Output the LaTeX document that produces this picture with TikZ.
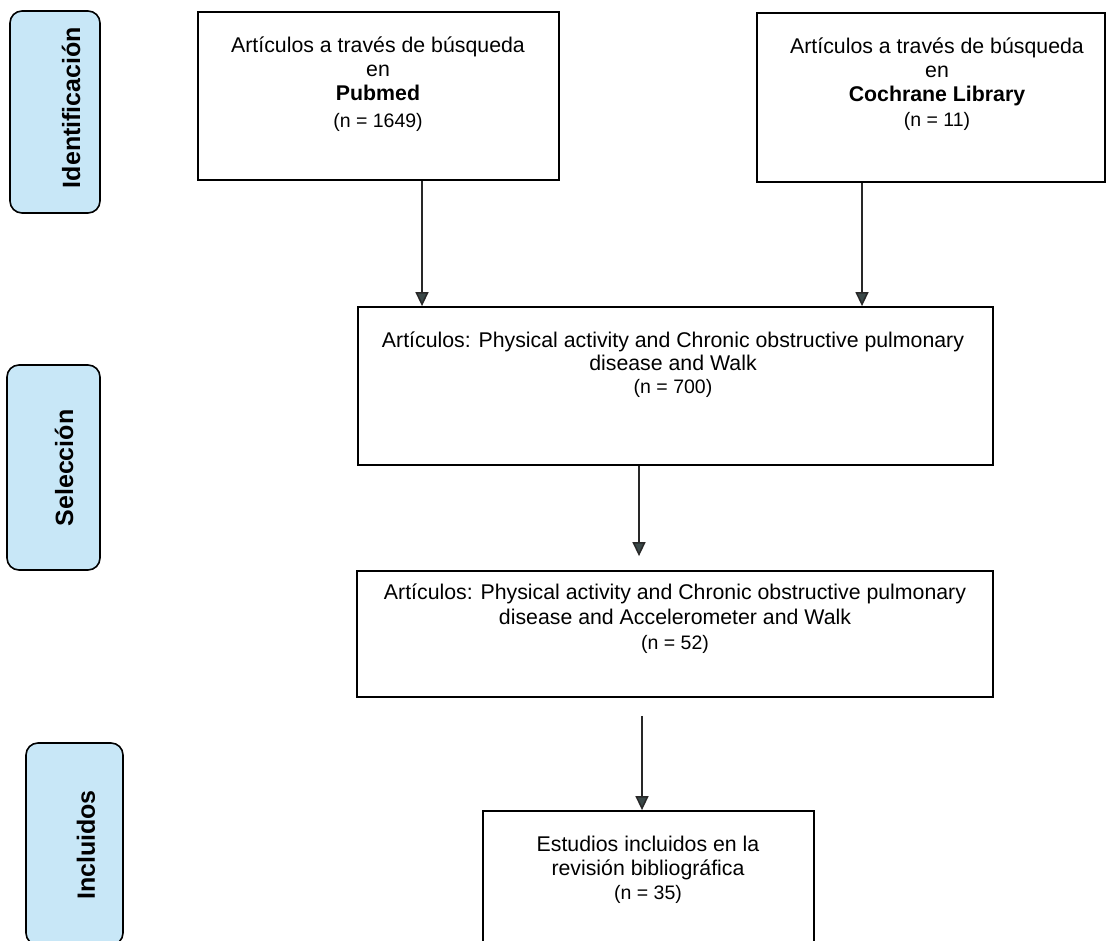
\documentclass[tikz,border=0pt]{standalone}
\usepackage{fontspec}
\setmainfont{Liberation Sans}
\usetikzlibrary{arrows.meta}
\definecolor{labelblue}{RGB}{200,231,247}
\definecolor{tipgray}{RGB}{58,72,72}
\definecolor{linegray}{RGB}{40,40,40}
\tikzset{
  mainbox/.style={draw=black, line width=1.8pt, rectangle, inner sep=0pt},
  sidebox/.style={draw=black, line width=1.6pt, fill=labelblue, rounded corners=12pt, inner sep=0pt},
  sidetext/.style={rotate=90, inner sep=0pt, font=\fontsize{25}{28}\selectfont\bfseries},
  boxtext/.style={anchor=north, align=center, inner sep=0pt, font=\fontsize{21.3}{24}\selectfont},
  arr/.style={draw=linegray, line width=1.5pt, -{Triangle[length=14pt,width=13pt,fill=tipgray]}}
}
\newcommand{\nline}[1]{{\fontsize{19.5}{24}\selectfont #1}}
\newcommand{\frst}{\rule{0pt}{20pt}}
\begin{document}
\begin{tikzpicture}[x=1pt,y=-1pt]
\useasboundingbox (0,0) rectangle (1107,941);
\clip (0,0) rectangle (1107,941);

% side labels
\node[sidebox, minimum width=90pt, minimum height=202pt] (ident) at (55,112) {};
\node[sidetext] (identT) at (71,107.5) {Identificación};
\node[sidebox, minimum width=93pt, minimum height=205pt] (selec) at (53.5,467.5) {};
\node[sidetext] (selecT) at (64,468) {Selección};
\node[sidebox, minimum width=97pt, minimum height=202pt] (inclu) at (74.5,844) {};
\node[sidetext] (incluT) at (86,845) {Incluidos};

% main boxes
\node[mainbox, minimum width=361pt, minimum height=168pt] (pub) at (378.5,96) {};
\node[boxtext] (pubT) at (378,32) {\frst Artículos a través de búsqueda\\ en\\ \textbf{Pubmed}\\[3pt] \nline{(n = 1649)}};

\node[mainbox, minimum width=348pt, minimum height=169pt] (coch) at (931,97.5) {};
\node[boxtext] (cochT) at (937,33) {\frst Artículos a través de búsqueda\\ en\\ \textbf{Cochrane Library}\\[1pt] \nline{(n = 11)}};

\node[mainbox, minimum width=635pt, minimum height=158pt] (sel) at (675.5,386) {};
\node[boxtext] (selT) at (673,327) {\frst Artículos: Physical activity and Chronic obstructive pulmonary\\[-1pt] disease and Walk\\[-1pt] \nline{(n = 700)}};

\node[mainbox, minimum width=636pt, minimum height=126pt] (acc) at (675,634) {};
\node[boxtext] (accT) at (675,579) {\frst Artículos: Physical activity and Chronic obstructive pulmonary\\[1.5pt] disease and Accelerometer and Walk\\[1pt] \nline{(n = 52)}};

\node[mainbox, minimum width=331pt, minimum height=149pt] (inc) at (648.5,885.5) {};
\node[boxtext] (incT) at (648,831) {\frst Estudios incluidos en la\\ revisión bibliográfica\\ \nline{(n = 35)}};

% connectors
\coordinate (x1) at (422,0);
\coordinate (x2) at (862,0);
\coordinate (x3) at (639,0);
\coordinate (x4) at (642,0);
\draw[arr] (pub.south -| x1) -- (sel.north -| x1);
\draw[arr] (coch.south -| x2) -- (sel.north -| x2);
\draw[arr, shorten >=14pt] (sel.south -| x3) -- (acc.north -| x3);
\draw[arr, shorten <=18pt] (acc.south -| x4) -- (inc.north -| x4);
\end{tikzpicture}
\end{document}
